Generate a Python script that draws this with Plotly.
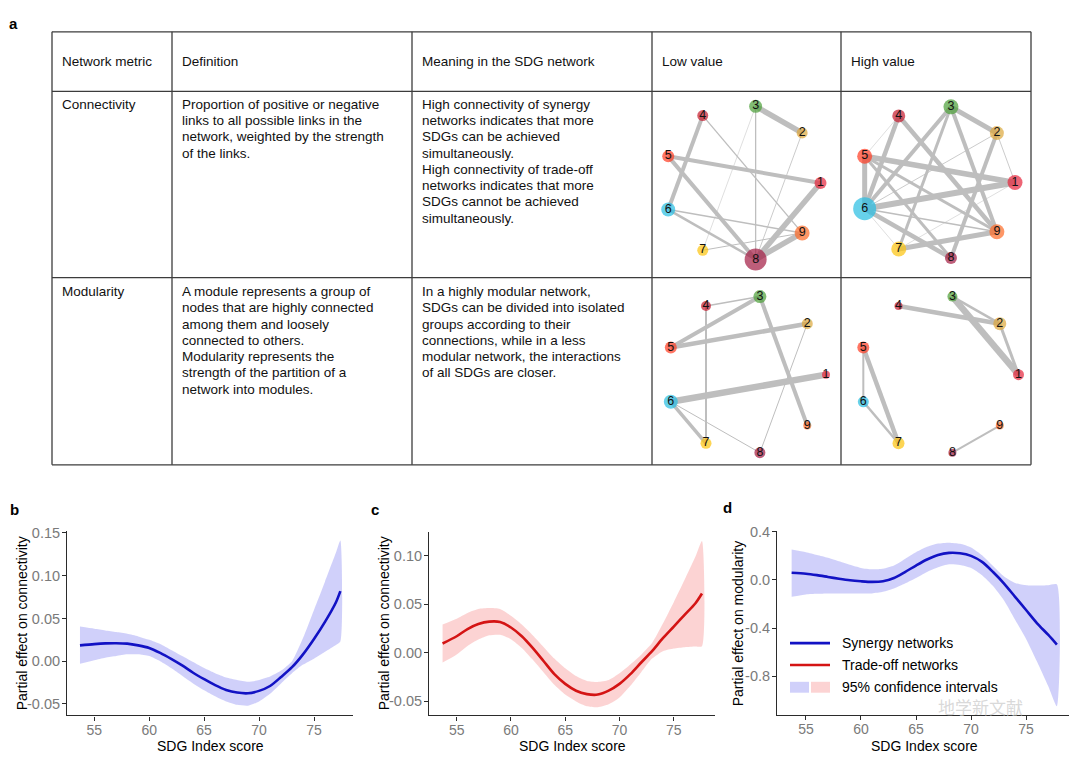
import numpy as np
import plotly.graph_objects as go

W, H = 1080, 761
OX, OY = 8, 8  # page body margin of the html page
FONT = "Liberation Sans, Arial, sans-serif"


def px(x):
    return (x - OX) / W


def py(y):
    return 1 - (y - OY) / H


# ---------------- Panel a: table text ----------------
headers = ["Network metric", "Definition", "Meaning in the SDG network", "Low value", "High value"]
row_metrics = ["Connectivity", "Modularity"]
row_definitions = [
    ["Proportion of positive or negative", "links to all possible links in the",
     "network, weighted by the strength", "of the links."],
    ["A module represents a group of", "nodes that are highly connected",
     "among them and loosely", "connected to others.", "Modularity represents the",
     "strength of the partition of a", "network into modules."],
]
row_meanings = [
    ["High connectivity of synergy", "networks indicates that more", "SDGs can be achieved",
     "simultaneously.", "High connectivity of trade-off", "networks indicates that more",
     "SDGs cannot be achieved", "simultaneously."],
    ["In a highly modular network,", "SDGs can be divided into isolated",
     "groups according to their", "connections, while in a less",
     "modular network, the interactions", "of all SDGs are closer."],
]

# ---------------- Panel a: SDG networks ----------------
sdg_labels = ["1", "2", "3", "4", "5", "6", "7", "8", "9"]
sdg_colors = ["#E5243B", "#DDA63A", "#4C9F38", "#C5192D", "#FF3A21",
              "#26BDE2", "#FCC30B", "#A21942", "#FD6925"]

# node sizes (node strength)
low_conn_size = [12, 11, 13, 11, 12, 14, 11, 22, 15]
high_conn_size = [15, 14, 15, 13, 15, 23, 15, 12, 15]
low_mod_size = [8, 11, 13, 10, 12, 14, 11, 11, 8]
high_mod_size = [11, 13, 10, 8, 12, 11, 12, 8, 8]

# edges: (source SDG, target SDG, link strength)
low_conn_edges = [(3, 2, 5.5), (3, 8, 1.3), (2, 8, 0.8), (4, 6, 4.0), (4, 9, 1.3),
                  (5, 1, 4.0), (5, 8, 4.0), (1, 8, 5.5), (9, 8, 5.5), (6, 9, 1.5),
                  (6, 8, 2.5), (7, 9, 1.0), (7, 3, 0.5)]
high_conn_edges = [(3, 2, 5.0), (3, 6, 4.0), (3, 7, 3.0), (3, 9, 4.0), (2, 8, 4.0),
                   (2, 1, 0.8), (2, 6, 0.8), (4, 6, 4.5), (4, 9, 4.5), (4, 5, 0.5),
                   (5, 1, 5.5), (5, 6, 5.0), (5, 9, 3.0), (5, 8, 3.0), (6, 1, 6.0),
                   (6, 9, 1.5), (6, 8, 4.5), (6, 7, 0.5), (7, 1, 0.5), (7, 9, 5.0)]
low_mod_edges = [(4, 3, 1.5), (5, 3, 4.0), (5, 2, 4.5), (4, 7, 2.0), (3, 9, 4.0),
                 (6, 1, 6.5), (2, 8, 1.0), (6, 7, 3.5), (6, 8, 1.0)]
high_mod_edges = [(4, 2, 4.5), (3, 2, 2.5), (3, 1, 6.5), (2, 1, 3.0),
                  (5, 6, 2.0), (5, 7, 4.5), (6, 7, 2.5), (8, 9, 2.0)]

networks = [
    # (sizes, edges, circle centre px x, y, radius px)
    (low_conn_size, low_conn_edges, 742.0, 177.5, 78.5),
    (high_conn_size, high_conn_edges, 937.5, 177.0, 77.5),
    (low_mod_size, low_mod_edges, 746.0, 371.0, 80.0),
    (high_mod_size, high_mod_edges, 938.5, 371.0, 80.0),
]

# ---------------- Panels b-d: GAM partial effects ----------------
sdg_score_b = [53.7, 55, 56, 57, 58, 59, 60, 61, 62, 63, 64, 65, 66, 67, 68, 69, 70, 71, 72, 73, 74, 75, 76, 77, 77.4]
fit_b = [0.0185, 0.020, 0.0208, 0.021, 0.0205, 0.0185, 0.0155, 0.0097, 0.0027, -0.005, -0.0135, -0.021,
         -0.028, -0.0336, -0.0367, -0.0375, -0.0347, -0.029, -0.0185, -0.007, 0.008, 0.026, 0.046, 0.069, 0.082]
upper_b = [0.0405, 0.038, 0.036, 0.034, 0.032, 0.029, 0.025, 0.020, 0.013, 0.006, -0.001, -0.008,
           -0.014, -0.019, -0.022, -0.024, -0.022, -0.018, -0.011, 0.000, 0.027, 0.060, 0.093, 0.127, 0.141]
lower_b = [-0.003, 0.001, 0.004, 0.006, 0.008, 0.008, 0.006, 0.000, -0.008, -0.017, -0.026, -0.034,
           -0.041, -0.047, -0.051, -0.052, -0.047, -0.038, -0.026, -0.014, -0.004, 0.003, 0.011, 0.019, 0.023]

sdg_score_c = [53.7, 55, 56, 57, 58, 59, 60, 61, 62, 63, 64, 65, 66, 67, 68, 69, 70, 71, 72, 73, 74, 75, 76, 77, 77.6]
fit_c = [0.0095, 0.017, 0.0244, 0.0295, 0.032, 0.0316, 0.026, 0.017, 0.005, -0.0085, -0.022, -0.032,
         -0.039, -0.0425, -0.043, -0.039, -0.032, -0.022, -0.010, 0.0017, 0.015, 0.027, 0.039, 0.051, 0.061]
upper_c = [0.029, 0.035, 0.041, 0.045, 0.046, 0.045, 0.038, 0.029, 0.018, 0.006, -0.006, -0.016,
           -0.024, -0.029, -0.030, -0.028, -0.021, -0.012, -0.002, 0.010, 0.030, 0.052, 0.075, 0.099, 0.115]
lower_c = [-0.010, -0.0017, 0.007, 0.0136, 0.018, 0.0185, 0.014, 0.005, -0.007, -0.020, -0.033, -0.043,
           -0.050, -0.055, -0.056, -0.053, -0.046, -0.034, -0.020, -0.006, 0.0017, 0.0044, 0.0058, 0.0065, 0.0068]

sdg_score_d = [53.7, 55, 56, 57, 58, 59, 60, 61, 62, 63, 64, 65, 66, 67, 68, 69, 70, 71, 72, 73, 74, 75, 76, 77, 77.8]
fit_d = [0.060, 0.052, 0.040, 0.025, 0.010, -0.003, -0.011, -0.016, -0.011, 0.016, 0.066, 0.12,
         0.17, 0.208, 0.225, 0.222, 0.200, 0.150, 0.066, -0.030, -0.140, -0.250, -0.360, -0.455, -0.537]
upper_d = [0.252, 0.23, 0.207, 0.184, 0.155, 0.126, 0.10, 0.088, 0.093, 0.12, 0.175, 0.23,
           0.275, 0.302, 0.31, 0.30, 0.27, 0.205, 0.115, 0.028, -0.025, -0.044, -0.047, -0.045, -0.038]
lower_d = [-0.14, -0.12, -0.115, -0.112, -0.112, -0.112, -0.112, -0.112, -0.099, -0.071, -0.03, 0.016,
           0.066, 0.105, 0.13, 0.125, 0.10, 0.04, -0.05, -0.17, -0.33, -0.49, -0.68, -0.88, -1.05]

x_ticks = [55, 60, 65, 70, 75]
y_ticks_bc = [-0.05, 0.00, 0.05, 0.10, 0.15]
y_ticklabels_bc = ["-0.05", "0.00", "0.05", "0.10", "0.15"]
y_ticks_d = [-0.8, -0.4, 0.0, 0.4]
y_ticklabels_d = ["-0.8", "-0.4", "0.0", "0.4"]

BLUE = "#1212C4"
RED = "#D41414"
BLUE_BAND = "rgba(40,40,230,0.22)"
RED_BAND = "rgba(245,80,80,0.25)"

fig = go.Figure()
layout = dict(
    width=W, height=H, margin=dict(l=0, r=0, t=0, b=0),
    paper_bgcolor="white", plot_bgcolor="rgba(0,0,0,0)",
    showlegend=False, font=dict(family=FONT, color="black"),
)
shapes = []
annotations = []

# ---------------- table ----------------
col_x = [52, 172, 412, 652, 841, 1031]
row_y = [25, 85, 273, 462]
LC = "#3c3c3c"
for xx in col_x:
    shapes.append(dict(type="line", xref="paper", yref="paper", x0=px(xx), x1=px(xx),
                       y0=py(row_y[0]), y1=py(row_y[-1]), line=dict(color=LC, width=1.3)))
for yy in row_y:
    shapes.append(dict(type="line", xref="paper", yref="paper", x0=px(col_x[0]), x1=px(col_x[-1]),
                       y0=py(yy), y1=py(yy), line=dict(color=LC, width=1.3)))

TFS = 13.5
LINE_STEP = 16.45


def cell_text(lines, x_left, y_first):
    for j, ln in enumerate(lines):
        annotations.append(dict(text=ln, xref="paper", yref="paper", x=px(x_left),
                                y=py(y_first + j * LINE_STEP), xanchor="left", yanchor="middle",
                                showarrow=False, font=dict(size=TFS, color="#111")))


for i, htxt in enumerate(headers):
    cell_text([htxt], col_x[i] + 7.5, 55)
first_line_y = [98, 287]
for r in range(2):
    cell_text([row_metrics[r]], col_x[0] + 7.5, first_line_y[r])
    cell_text(row_definitions[r], col_x[1] + 7.5, first_line_y[r])
    cell_text(row_meanings[r], col_x[2] + 7.5, first_line_y[r])

# ---------------- networks ----------------
cell_s = 92
theta = np.deg2rad(np.arange(9) * 40.0)
for k, (sizes, edges, cx, cy, rad) in enumerate(networks):
    ax_id = k + 4
    xa = "x%d" % ax_id
    ya = "y%d" % ax_id
    lim = cell_s / rad
    nx = np.cos(theta)
    ny = np.sin(theta)
    for (s, t, w) in edges:
        fig.add_trace(go.Scatter(x=[nx[s - 1], nx[t - 1]], y=[ny[s - 1], ny[t - 1]], mode="lines",
                                 line=dict(color="#BEBEBE", width=w), hoverinfo="skip",
                                 xaxis=xa, yaxis=ya))
    fig.add_trace(go.Scatter(x=nx, y=ny, mode="markers+text", text=sdg_labels,
                             textposition="middle center",
                             textfont=dict(size=12.5, color="#111", family=FONT),
                             marker=dict(size=sizes, color=sdg_colors, line=dict(width=0)),
                             xaxis=xa, yaxis=ya, hoverinfo="skip"))
    layout["xaxis%d" % ax_id] = dict(domain=[px(cx - cell_s), px(cx + cell_s)], range=[-lim, lim],
                                     visible=False, fixedrange=True, anchor=ya)
    layout["yaxis%d" % ax_id] = dict(domain=[py(cy + cell_s), py(cy - cell_s)], range=[-lim, lim],
                                     visible=False, fixedrange=True, anchor=xa)

# ---------------- panels b-d ----------------
panels = [
    ("x", "y", sdg_score_b, fit_b, upper_b, lower_b, BLUE, BLUE_BAND),
    ("x2", "y2", sdg_score_c, fit_c, upper_c, lower_c, RED, RED_BAND),
    ("x3", "y3", sdg_score_d, fit_d, upper_d, lower_d, BLUE, BLUE_BAND),
]
for xa, ya, xs, fit, up, lo, col, band in panels:
    fig.add_trace(go.Scatter(x=list(xs) + list(xs)[::-1], y=list(up) + list(lo)[::-1],
                             fill="toself", fillcolor=band, line=dict(width=0, shape="spline", smoothing=0.6),
                             mode="lines", hoverinfo="skip", xaxis=xa, yaxis=ya))
    fig.add_trace(go.Scatter(x=xs, y=fit, mode="lines",
                             line=dict(color=col, width=2.6, shape="spline", smoothing=0.8),
                             hoverinfo="skip", xaxis=xa, yaxis=ya))

axis_style = dict(showline=True, linecolor="#2b2b2b", linewidth=1.1, ticks="outside", ticklen=4,
                  tickcolor="#2b2b2b", tickwidth=1, showgrid=False, zeroline=False,
                  tickfont=dict(size=14, color="#7a7a7a", family=FONT), fixedrange=True)
xstyle = dict(axis_style, ticklabelstandoff=-2)
ystyle = dict(axis_style, ticklabelstandoff=-1, tickfont=dict(size=14.5, color="#7a7a7a", family=FONT))

layout["xaxis"] = dict(xstyle, domain=[px(67), px(353)], range=[52.52, 78.55], tickvals=x_ticks, anchor="y")
layout["yaxis"] = dict(ystyle, domain=[py(715), py(529)], range=[-0.0635, 0.152], tickvals=y_ticks_bc,
                       ticktext=y_ticklabels_bc, anchor="x")
layout["xaxis2"] = dict(xstyle, domain=[px(429), px(715)], range=[52.45, 78.8], tickvals=x_ticks, anchor="y2")
layout["yaxis2"] = dict(ystyle, domain=[py(715), py(530)], range=[-0.0645, 0.124], tickvals=y_ticks_bc[:4],
                        ticktext=y_ticklabels_bc[:4], anchor="x2")
layout["xaxis3"] = dict(xstyle, domain=[px(777), px(1069)], range=[52.37, 78.9], tickvals=x_ticks, anchor="y3")
layout["yaxis3"] = dict(ystyle, domain=[py(714), py(529)], range=[-1.118, 0.405], tickvals=y_ticks_d,
                        ticktext=y_ticklabels_d, anchor="x3")

# axis titles
for (xc, txt) in [(210, "SDG Index score"), (572, "SDG Index score"), (924, "SDG Index score")]:
    annotations.append(dict(text=txt, xref="paper", yref="paper", x=px(xc), y=py(746),
                            xanchor="center", yanchor="middle", showarrow=False,
                            font=dict(size=14, color="black")))
for (xc, txt) in [(22, "Partial effect on connectivity"), (384, "Partial effect on connectivity"),
                  (738, "Partial effect on modularity")]:
    annotations.append(dict(text=txt, xref="paper", yref="paper", x=px(xc), y=py(622), textangle=-90,
                            xanchor="center", yanchor="middle", showarrow=False,
                            font=dict(size=14, color="black")))

# panel letters
for (xc, yc, txt) in [(13, 17, "a"), (14, 507, "b"), (375, 507, "c"), (727, 505, "d")]:
    annotations.append(dict(text="<b>%s</b>" % txt, xref="paper", yref="paper", x=px(xc), y=py(yc),
                            xanchor="center", yanchor="middle", showarrow=False,
                            font=dict(size=15, color="black")))

# legend (panel d)
legend_items = ["Synergy networks", "Trade-off networks", "95% confidence intervals"]
leg_y = [642, 664, 686]
shapes.append(dict(type="line", xref="paper", yref="paper", x0=px(790), x1=px(830), y0=py(leg_y[0]),
                   y1=py(leg_y[0]), line=dict(color=BLUE, width=2.6)))
shapes.append(dict(type="line", xref="paper", yref="paper", x0=px(790), x1=px(830), y0=py(leg_y[1]),
                   y1=py(leg_y[1]), line=dict(color=RED, width=2.6)))
shapes.append(dict(type="rect", xref="paper", yref="paper", x0=px(790), x1=px(809), y0=py(692),
                   y1=py(681), fillcolor=BLUE_BAND, line=dict(width=0)))
shapes.append(dict(type="rect", xref="paper", yref="paper", x0=px(811), x1=px(830), y0=py(692),
                   y1=py(681), fillcolor=RED_BAND, line=dict(width=0)))
for txt, yy in zip(legend_items, leg_y):
    annotations.append(dict(text=txt, xref="paper", yref="paper", x=px(840), y=py(yy),
                            xanchor="left", yanchor="middle", showarrow=False,
                            font=dict(size=14, color="black")))

# watermark
annotations.append(dict(text="地学新文献", xref="paper", yref="paper", x=px(980), y=py(706),
                        xanchor="center", yanchor="middle", showarrow=False,
                        font=dict(size=17, color="rgba(200,200,200,0.7)",
                                  family="Noto Sans CJK SC")))

layout["shapes"] = shapes
layout["annotations"] = annotations
fig.update_layout(**layout)
fig.write_html("out.html")
